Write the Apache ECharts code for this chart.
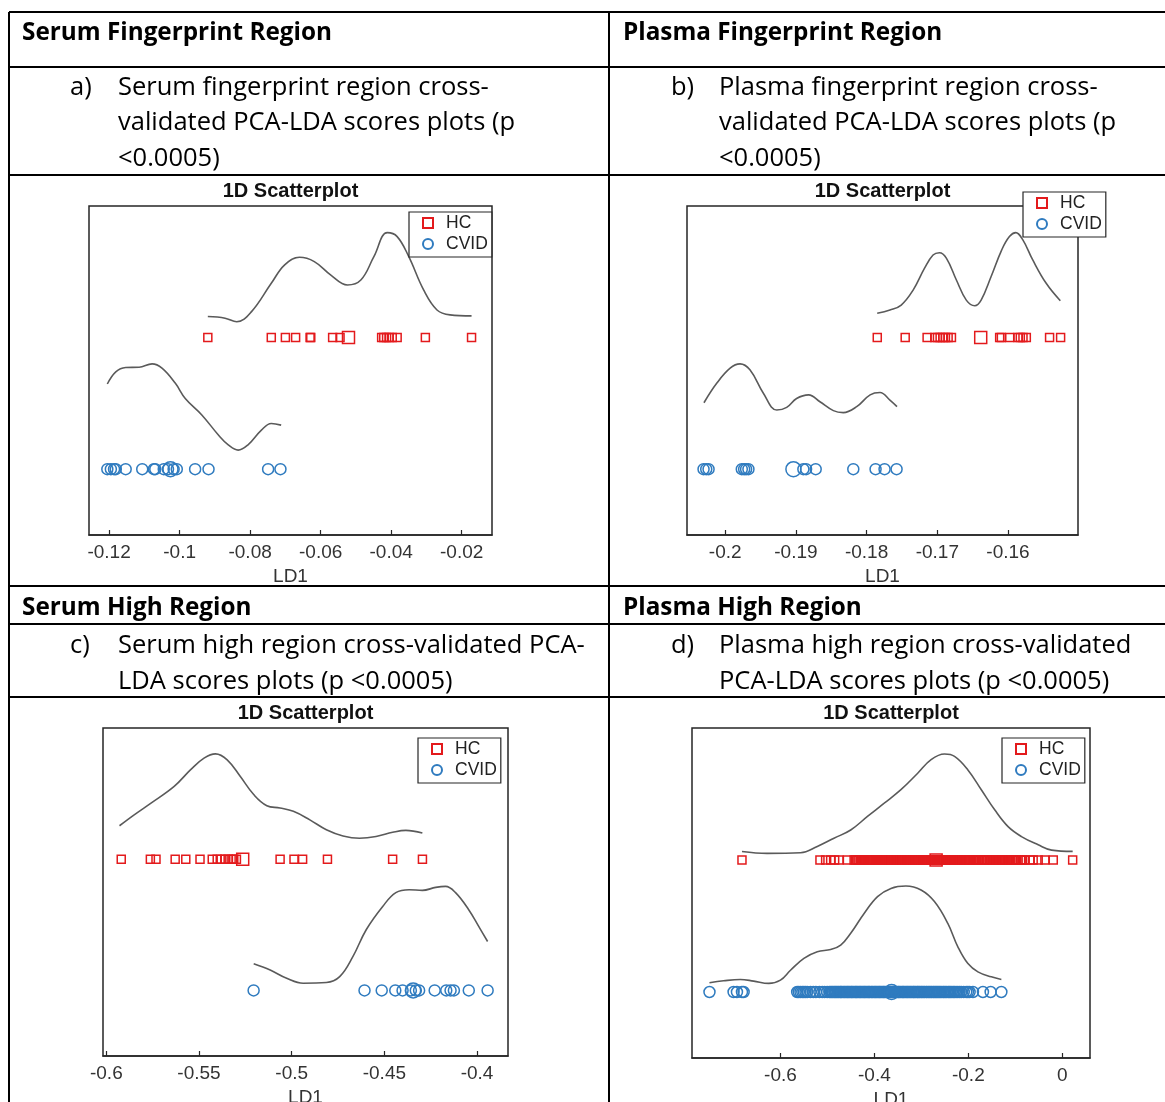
<!DOCTYPE html>
<html>
<head>
<meta charset="utf-8">
<script src="https://cdn.jsdelivr.net/npm/echarts@6/dist/echarts.min.js"></script>
<style>
  html, body { margin: 0; padding: 0; background: #fff; }
  #chart { width: 1165px; height: 1102px; }
</style>
</head>
<body>
<div id="chart"></div>
<script>
// ---- LD1 scores: serum fingerprint region ----
const serumFpHC = [-0.0920, -0.0740, -0.0700, -0.0671, -0.0630, -0.0628, -0.0566, -0.0545,
  -0.0427, -0.0421, -0.0413, -0.0406, -0.0397, -0.0383, -0.0303, -0.0172];
const serumFpHCCentre = -0.0521;
const serumFpCVID = [-0.1205, -0.1195, -0.1186, -0.1181, -0.1153, -0.1106, -0.1073, -0.1069,
  -0.1045, -0.1033, -0.1017, -0.1008, -0.0956, -0.0918, -0.0749, -0.0714];
const serumFpCVIDCentre = -0.1026;
const serumFpHCCurve = [[-0.0920, 0.664], [-0.0871, 0.659], [-0.0838, 0.648], [-0.0796, 0.679],
  [-0.0740, 0.765], [-0.0702, 0.821], [-0.0660, 0.844], [-0.0618, 0.831], [-0.0571, 0.790],
  [-0.0524, 0.760], [-0.0486, 0.775], [-0.0449, 0.846], [-0.0411, 0.919], [-0.0383, 0.907],
  [-0.0350, 0.846], [-0.0308, 0.745], [-0.0270, 0.684], [-0.0233, 0.669], [-0.0172, 0.666]];
const serumFpCVIDCurve = [[-0.1205, 0.459], [-0.1181, 0.496], [-0.1153, 0.509], [-0.1115, 0.510],
  [-0.1078, 0.520], [-0.1050, 0.507], [-0.1012, 0.461], [-0.0984, 0.415], [-0.0937, 0.365],
  [-0.0890, 0.304], [-0.0862, 0.274], [-0.0834, 0.258], [-0.0806, 0.274], [-0.0768, 0.319],
  [-0.0740, 0.339], [-0.0712, 0.334]];
const serumFpTicks = [-0.12, -0.1, -0.08, -0.06, -0.04, -0.02];

// ---- LD1 scores: plasma fingerprint region ----
const plasmaFpHC = [-0.17849, -0.17454, -0.17144, -0.17035, -0.16998, -0.16960, -0.16922,
  -0.16885, -0.16847, -0.16800, -0.16118, -0.16094, -0.15976, -0.15859, -0.15826, -0.15788,
  -0.15741, -0.15412, -0.15256];
const plasmaFpHCCentre = -0.16386;
const plasmaFpCVID = [-0.20306, -0.20268, -0.20235, -0.19765, -0.19732, -0.19704, -0.19671,
  -0.18894, -0.18856, -0.18720, -0.18188, -0.17873, -0.17746, -0.17576];
const plasmaFpCVIDCentre = -0.19035;
const plasmaFpHCCurve = [[-0.1785, 0.674], [-0.1767, 0.684], [-0.1751, 0.699], [-0.1734, 0.745],
  [-0.1718, 0.811], [-0.1706, 0.851], [-0.1697, 0.858], [-0.1687, 0.841], [-0.1673, 0.775],
  [-0.1659, 0.714], [-0.1647, 0.697], [-0.1638, 0.714], [-0.1624, 0.785], [-0.1609, 0.866],
  [-0.1598, 0.907], [-0.1589, 0.919], [-0.1579, 0.897], [-0.1565, 0.836], [-0.1546, 0.765],
  [-0.1526, 0.712]];
const plasmaFpCVIDCurve = [[-0.2030, 0.402], [-0.2012, 0.461], [-0.1993, 0.507], [-0.1979, 0.520],
  [-0.1965, 0.502], [-0.1946, 0.431], [-0.1927, 0.380], [-0.1913, 0.388], [-0.1899, 0.415],
  [-0.1882, 0.426], [-0.1866, 0.405], [-0.1847, 0.378], [-0.1833, 0.372], [-0.1814, 0.390],
  [-0.1795, 0.426], [-0.1781, 0.433], [-0.1767, 0.410], [-0.1757, 0.390]];
const plasmaFpTicks = [-0.2, -0.19, -0.18, -0.17, -0.16];

// ---- LD1 scores: serum high region ----
const serumHiHC = [-0.59196, -0.57625, -0.57321, -0.56286, -0.55714, -0.54946, -0.54286,
  -0.54018, -0.53804, -0.53607, -0.53429, -0.53268, -0.53125, -0.52982, -0.50625, -0.49875,
  -0.49411, -0.48071, -0.44554, -0.42946];
const serumHiHCCentre = -0.52643;
const serumHiCVID = [-0.52054, -0.46071, -0.45143, -0.44411, -0.44018, -0.43571, -0.43304,
  -0.43125, -0.42286, -0.41661, -0.41429, -0.41250, -0.40446, -0.39429];
const serumHiCVIDCentre = -0.43446;
const serumHiHCCurve = [[-0.5929, 0.702], [-0.5848, 0.736], [-0.5759, 0.771], [-0.5634, 0.822],
  [-0.5545, 0.873], [-0.5473, 0.908], [-0.5411, 0.921], [-0.5348, 0.903], [-0.5277, 0.852],
  [-0.5205, 0.797], [-0.5134, 0.763], [-0.5063, 0.756], [-0.4991, 0.746], [-0.4902, 0.720],
  [-0.4813, 0.690], [-0.4723, 0.671], [-0.4634, 0.664], [-0.4545, 0.669], [-0.4455, 0.682],
  [-0.4384, 0.688], [-0.4295, 0.680]];
const serumHiCVIDCurve = [[-0.5205, 0.281], [-0.5116, 0.262], [-0.5027, 0.237], [-0.4938, 0.222],
  [-0.4813, 0.224], [-0.4741, 0.242], [-0.4670, 0.303], [-0.4598, 0.385], [-0.4509, 0.456],
  [-0.4438, 0.498], [-0.4366, 0.507], [-0.4295, 0.505], [-0.4223, 0.514], [-0.4170, 0.517],
  [-0.4116, 0.498], [-0.4045, 0.446], [-0.3991, 0.395], [-0.3943, 0.349]];
const serumHiTicks = [-0.6, -0.55, -0.5, -0.45, -0.4];

// ---- LD1 scores: plasma high region ----
const plasmaHiHC = [-0.6819, -0.5159, -0.5038, -0.4931, -0.4846, -0.4753, -0.4575,
  -0.4432, -0.4405, -0.438, -0.4352, -0.433, -0.4301, -0.427, -0.4248, -0.422, -0.4196,
  -0.418, -0.4153, -0.413, -0.4104, -0.409, -0.4062, -0.404, -0.4018, -0.399, -0.3967,
  -0.394, -0.392, -0.3897, -0.388, -0.3851, -0.383, -0.3806, -0.379, -0.3764, -0.374,
  -0.3719, -0.37, -0.3675, -0.365, -0.3631, -0.361, -0.3588, -0.357, -0.3544, -0.352,
  -0.3502, -0.348, -0.3459, -0.344, -0.3417, -0.34, -0.3376, -0.335, -0.3333, -0.331,
  -0.3291, -0.327, -0.3249, -0.323, -0.3207, -0.318, -0.3163, -0.314, -0.3121, -0.31,
  -0.3078, -0.306, -0.3036, -0.301, -0.2994, -0.297, -0.2951, -0.293, -0.2909, -0.289,
  -0.2867, -0.285, -0.2824, -0.28, -0.2782, -0.276, -0.2741, -0.272, -0.2699, -0.2668,
  -0.2646, -0.262, -0.2603, -0.258, -0.2561, -0.254, -0.2517, -0.249, -0.2474, -0.245,
  -0.2432, -0.241, -0.2389, -0.236, -0.2346, -0.232, -0.2303, -0.228, -0.2259, -0.223,
  -0.2214, -0.219, -0.2168, -0.214, -0.2121, -0.209, -0.2073, -0.205, -0.2024, -0.199,
  -0.1975, -0.195, -0.1925, -0.189, -0.1872, -0.184, -0.1819, -0.179, -0.1764, -0.173,
  -0.1708, -0.167, -0.1649, -0.162, -0.1588, -0.155, -0.1524, -0.149, -0.1461, -0.143,
  -0.1398, -0.137, -0.1339, -0.131, -0.1277, -0.125, -0.1216, -0.118, -0.1157, -0.112,
  -0.1093, -0.106, -0.1031, -0.1, -0.0972, -0.094, -0.0887, -0.0843, -0.0798, -0.0691,
  -0.0620, -0.0513, -0.0370, -0.0192, 0.0221];
const plasmaHiHCCentre = -0.2686;
const plasmaHiCVID = [-0.7511, -0.6998, -0.6926, -0.6819, -0.6784, -0.5644, -0.5610,
  -0.5573, -0.5535, -0.5501, -0.5466, -0.543, -0.536, -0.530, -0.5245, -0.517, -0.511,
  -0.506, -0.5005, -0.496, -0.4931, -0.4905, -0.488, -0.4853, -0.483, -0.4806, -0.478,
  -0.4757, -0.473, -0.4711, -0.469, -0.4663, -0.464, -0.4618, -0.459, -0.4572, -0.455,
  -0.4527, -0.45, -0.4481, -0.446, -0.4436, -0.441, -0.4391, -0.437, -0.4345, -0.432,
  -0.43, -0.428, -0.4254, -0.423, -0.4209, -0.419, -0.4163, -0.414, -0.4118, -0.41,
  -0.4072, -0.405, -0.4027, -0.4, -0.3981, -0.396, -0.3936, -0.391, -0.389, -0.387,
  -0.3845, -0.382, -0.38, -0.378, -0.3754, -0.373, -0.3709, -0.369, -0.3663, -0.364,
  -0.3618, -0.359, -0.3572, -0.355, -0.3527, -0.35, -0.3481, -0.346, -0.3436, -0.341,
  -0.339, -0.337, -0.3345, -0.332, -0.33, -0.328, -0.3254, -0.323, -0.3209, -0.318,
  -0.3163, -0.314, -0.3118, -0.309, -0.3072, -0.305, -0.3027, -0.3, -0.2981, -0.295,
  -0.2931, -0.29, -0.288, -0.285, -0.2829, -0.28, -0.2778, -0.275, -0.2727, -0.27,
  -0.2676, -0.265, -0.2625, -0.26, -0.2574, -0.254, -0.2518, -0.249, -0.2462, -0.243,
  -0.2406, -0.238, -0.235, -0.232, -0.2294, -0.226, -0.2223, -0.2185, -0.215, -0.2098,
  -0.2045, -0.2009, -0.1973, -0.1902, -0.1689, -0.1525, -0.1297];
const plasmaHiCVIDCentre = -0.3634;
const plasmaHiHCCurve = [[-0.6819, 0.626], [-0.6285, 0.620], [-0.5572, 0.622], [-0.5216, 0.641],
  [-0.4860, 0.666], [-0.4504, 0.691], [-0.4147, 0.732], [-0.3791, 0.772], [-0.3435, 0.813],
  [-0.3078, 0.863], [-0.2793, 0.904], [-0.2508, 0.921], [-0.2294, 0.914], [-0.2009, 0.873],
  [-0.1724, 0.813], [-0.1439, 0.752], [-0.1154, 0.701], [-0.0869, 0.671], [-0.0513, 0.646],
  [-0.0228, 0.630], [0.0221, 0.626]];
const plasmaHiCVIDCurve = [[-0.7511, 0.228], [-0.7211, 0.234], [-0.6855, 0.238], [-0.6570, 0.233],
  [-0.6249, 0.226], [-0.6000, 0.236], [-0.5786, 0.266], [-0.5501, 0.302], [-0.5216, 0.322],
  [-0.4931, 0.329], [-0.4717, 0.342], [-0.4504, 0.378], [-0.4219, 0.438], [-0.3933, 0.489],
  [-0.3648, 0.514], [-0.3328, 0.521], [-0.3007, 0.509], [-0.2722, 0.474], [-0.2437, 0.408],
  [-0.2223, 0.337], [-0.2009, 0.286], [-0.1796, 0.261], [-0.1511, 0.246], [-0.1297, 0.238]];
const plasmaHiTicks = [-0.6, -0.4, -0.2, 0];

// group rows on the (hidden) vertical axis
const HC_ROW = 0.6;
const CVID_ROW = 0.2;
const groupNames = ['HC', 'CVID'];

// ---- drawing ----
const RED = '#e31a1c';
const BLUE = '#2f7bbf';
const CURVE = '#5a5a5a';
const AXIS = '#262626';
const PLOT_FONT = '"Liberation Sans", Arial, sans-serif';
const TABLE_FONT = '"Open Sans", "Noto Sans", sans-serif';

const panels = [
  { hc: serumFpHC, hcC: serumFpHCCentre, cvid: serumFpCVID, cvidC: serumFpCVIDCentre,
    hcCurve: serumFpHCCurve, cvidCurve: serumFpCVIDCurve, ticks: serumFpTicks,
    min: -0.1257, max: -0.0114, grid: [89, 206, 403, 329], legend: [409, 212] },
  { hc: plasmaFpHC, hcC: plasmaFpHCCentre, cvid: plasmaFpCVID, cvidC: plasmaFpCVIDCentre,
    hcCurve: plasmaFpHCCurve, cvidCurve: plasmaFpCVIDCurve, ticks: plasmaFpTicks,
    min: -0.2054, max: -0.1501, grid: [687, 206, 391, 329], legend: [1023, 192] },
  { hc: serumHiHC, hcC: serumHiHCCentre, cvid: serumHiCVID, cvidC: serumHiCVIDCentre,
    hcCurve: serumHiHCCurve, cvidCurve: serumHiCVIDCurve, ticks: serumHiTicks,
    min: -0.6018, max: -0.3833, grid: [103, 728, 405, 328], legend: [418, 738] },
  { hc: plasmaHiHC, hcC: plasmaHiHCCentre, cvid: plasmaHiCVID, cvidC: plasmaHiCVIDCentre,
    hcCurve: plasmaHiHCCurve, cvidCurve: plasmaHiCVIDCurve, ticks: plasmaHiTicks,
    min: -0.7883, max: 0.059, grid: [692, 728, 398, 330], legend: [1002, 738] }
];

const grids = [], xAxes = [], yAxes = [], series = [], legends = [], graphics = [];

panels.forEach((p, i) => {
  const [gl, gt, gw, gh] = p.grid;
  grids.push({ left: gl, top: gt, width: gw, height: gh, show: true,
    outerBoundsMode: 'none', containLabel: false,
    borderColor: AXIS, borderWidth: 1.5, backgroundColor: 'transparent' });

  xAxes.push({
    gridIndex: i, type: 'value', position: 'bottom', min: p.min, max: p.max,
    name: 'LD1', nameLocation: 'middle', nameGap: 32,
    nameTextStyle: { color: '#333', fontFamily: PLOT_FONT, fontSize: 19 },
    axisLine: { show: true, lineStyle: { color: AXIS, width: 1.5 } },
    axisTick: { show: true, inside: true, length: 5, customValues: p.ticks,
      lineStyle: { color: AXIS, width: 1.2 } },
    axisLabel: { show: true, customValues: p.ticks, margin: 8, color: '#333',
      fontFamily: PLOT_FONT, fontSize: 19, formatter: v => String(v) },
    splitLine: { show: false }
  });
  yAxes.push({ gridIndex: i, type: 'value', min: 0, max: 1, show: false });

  series.push({
    type: 'line', name: 'HC density', xAxisIndex: i, yAxisIndex: i,
    data: p.hcCurve, smooth: 0.4, showSymbol: false, silent: true,
    lineStyle: { color: CURVE, width: 1.6 }, z: 2
  });
  series.push({
    type: 'line', name: 'CVID density', xAxisIndex: i, yAxisIndex: i,
    data: p.cvidCurve, smooth: 0.4, showSymbol: false, silent: true,
    lineStyle: { color: CURVE, width: 1.6 }, z: 2
  });
  series.push({
    type: 'scatter', name: 'HC', xAxisIndex: i, yAxisIndex: i,
    symbol: 'rect', symbolSize: 8, large: false,
    itemStyle: { color: 'rgba(255,255,255,0)', borderColor: RED, borderWidth: 1.5, opacity: 1 },
    data: p.hc.map(v => [v, HC_ROW]).concat([{ value: [p.hcC, HC_ROW], symbolSize: 12 }]),
    z: 3
  });
  series.push({
    type: 'scatter', name: 'CVID', xAxisIndex: i, yAxisIndex: i,
    symbol: 'circle', symbolSize: 11, large: false,
    itemStyle: { color: 'rgba(255,255,255,0)', borderColor: BLUE, borderWidth: 1.5, opacity: 1 },
    data: p.cvid.map(v => [v, CVID_ROW]).concat([{ value: [p.cvidC, CVID_ROW], symbolSize: 15 }]),
    z: 3
  });

  legends.push({
    data: groupNames, orient: 'vertical', left: p.legend[0], top: p.legend[1],
    backgroundColor: '#fff', borderColor: AXIS, borderWidth: 1.2, borderRadius: 0,
    padding: [1, 4, 3, 13], itemGap: 1, itemWidth: 10, itemHeight: 10,
    textStyle: { color: '#222', fontFamily: PLOT_FONT, fontSize: 17.5, lineHeight: 20,
      padding: [0, 0, 0, 8] },
    selectedMode: false
  });

  graphics.push({
    type: 'text', x: gl + gw / 2, y: gt - 15,
    style: { text: '1D Scatterplot', fill: '#111', fontFamily: PLOT_FONT, fontWeight: 'bold',
      fontSize: 20, align: 'center', verticalAlign: 'middle' }
  });
});

// table rules
const hRules = [12, 67, 175, 586, 624, 697];
hRules.forEach(y => graphics.push({ type: 'line', shape: { x1: 9, y1: y, x2: 1165, y2: y },
  style: { stroke: '#000', lineWidth: 2 } }));
[9, 609].forEach(x => graphics.push({ type: 'line', shape: { x1: x, y1: 12, x2: x, y2: 1102 },
  style: { stroke: '#000', lineWidth: 2 } }));

// table text
function cellText(text, x, y, bold) {
  graphics.push({ type: 'text', x: x, y: y,
    style: { text: text, fill: '#000', fontFamily: TABLE_FONT, fontWeight: bold ? 'bold' : 'normal',
      fontSize: bold ? 24.3 : 25.5, align: 'left', verticalAlign: 'middle' } });
}
cellText('Serum Fingerprint Region', 22, 33, true);
cellText('Plasma Fingerprint Region', 623, 33, true);
cellText('a)', 70, 88);
cellText('Serum fingerprint region cross-', 118, 88);
cellText('validated PCA-LDA scores plots (p', 118, 123);
cellText('<0.0005)', 118, 159);
cellText('b)', 671, 88);
cellText('Plasma fingerprint region cross-', 719, 88);
cellText('validated PCA-LDA scores plots (p', 719, 123);
cellText('<0.0005)', 719, 159);
cellText('Serum High Region', 22, 608, true);
cellText('Plasma High Region', 623, 608, true);
cellText('c)', 70, 646);
cellText('Serum high region cross-validated PCA-', 118, 646);
cellText('LDA scores plots (p <0.0005)', 118, 682);
cellText('d)', 671, 646);
cellText('Plasma high region cross-validated', 719, 646);
cellText('PCA-LDA scores plots (p <0.0005)', 719, 682);

const chart = echarts.init(document.getElementById('chart'), null, { renderer: 'canvas' });
chart.setOption({
  animation: false,
  backgroundColor: '#fff',
  grid: grids,
  xAxis: xAxes,
  yAxis: yAxes,
  legend: legends,
  series: series,
  graphic: graphics
});
</script>
</body>
</html>
